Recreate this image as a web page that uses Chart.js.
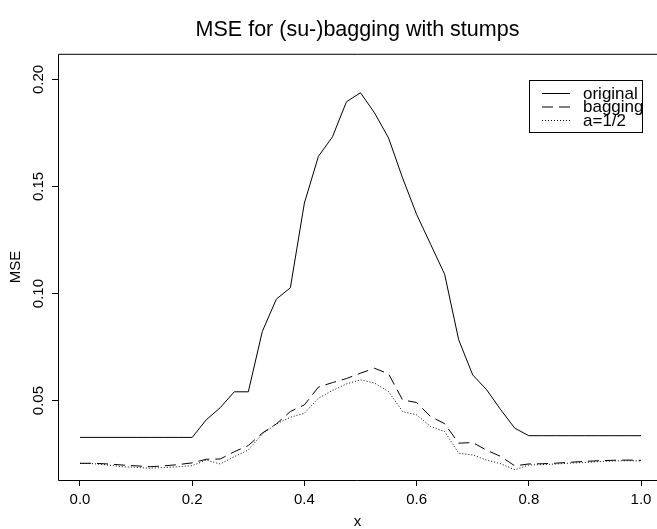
<!DOCTYPE html>
<html lang="en">
<head>
<meta charset="UTF-8">
<title>MSE for (su-)bagging with stumps</title>
<script src="https://cdn.jsdelivr.net/npm/chart.js"></script>
<style>
  html, body { margin: 0; padding: 0; background: #fff; overflow: hidden; }
  #wrap { position: relative; width: 657px; height: 529px; }
</style>
</head>
<body>
<div id="wrap"><canvas id="mseChart"></canvas></div>
<script>
// x grid (41 points) and the three MSE curves
const xValues = [0, 0.025, 0.05, 0.075, 0.1, 0.125, 0.15, 0.175, 0.2, 0.225,
                 0.25, 0.275, 0.3, 0.325, 0.35, 0.375, 0.4, 0.425, 0.45, 0.475,
                 0.5, 0.525, 0.55, 0.575, 0.6, 0.625, 0.65, 0.675, 0.7, 0.725,
                 0.75, 0.775, 0.8, 0.825, 0.85, 0.875, 0.9, 0.925, 0.95, 0.975, 1.0];
const original = [0.0328, 0.0328, 0.0328, 0.0328, 0.0328, 0.0328, 0.0328, 0.0328, 0.0328, 0.0410,
                  0.0467, 0.0541, 0.0541, 0.0823, 0.0974, 0.1027, 0.1423, 0.1641, 0.1732, 0.1896,
                  0.1938, 0.1844, 0.1727, 0.1540, 0.1370, 0.1230, 0.1090, 0.0784, 0.0620, 0.0550,
                  0.0457, 0.0371, 0.0336, 0.0336, 0.0336, 0.0336, 0.0336, 0.0336, 0.0336, 0.0336, 0.0336];
const bagging = [0.0207, 0.0207, 0.0204, 0.0199, 0.0195, 0.0191, 0.0195, 0.0201, 0.0209, 0.0226,
                 0.0227, 0.0261, 0.0290, 0.0348, 0.0391, 0.0449, 0.0480, 0.0563, 0.0584, 0.0603,
                 0.0628, 0.0651, 0.0625, 0.0503, 0.0491, 0.0425, 0.0392, 0.0301, 0.0304, 0.0268,
                 0.0239, 0.0195, 0.0204, 0.0205, 0.0208, 0.0212, 0.0216, 0.0219, 0.0221, 0.0222, 0.0221];
const halfSub = [0.0207, 0.0205, 0.0199, 0.0191, 0.0188, 0.0184, 0.0187, 0.0191, 0.0196, 0.0222,
                 0.0204, 0.0238, 0.0269, 0.0344, 0.0391, 0.0422, 0.0441, 0.0511, 0.0547, 0.0578,
                 0.0597, 0.0582, 0.0542, 0.0449, 0.0433, 0.0379, 0.0355, 0.0254, 0.0246, 0.0222,
                 0.0205, 0.0177, 0.0199, 0.0201, 0.0204, 0.0208, 0.0211, 0.0215, 0.0218, 0.0219, 0.0218];
const seriesNames = ['original', 'bagging', 'a=1/2'];

const xTicks = [0, 0.2, 0.4, 0.6, 0.8, 1.0];
const xTickLabels = ['0.0', '0.2', '0.4', '0.6', '0.8', '1.0'];
const yTicks = [0.05, 0.10, 0.15, 0.20];
const yTickLabels = ['0.05', '0.10', '0.15', '0.20'];

const fontFamily = "'Liberation Sans', Arial, Helvetica, sans-serif";
Chart.defaults.font.family = fontFamily;
Chart.defaults.color = '#000';

function toPoints(ys) {
    return xValues.map((x, i) => ({ x: x, y: ys[i] }));
}

// R style box (its right side falls just outside the picture) plus the boxed legend
const rFrame = {
    id: 'rFrame',
    afterDraw(chart) {
        const { ctx, chartArea } = chart;
        const l = chartArea.left + 0.5, t = chartArea.top + 0.5, b = chartArea.bottom + 0.5;
        ctx.save();
        ctx.strokeStyle = '#000';
        ctx.lineWidth = 1;
        ctx.beginPath();
        ctx.moveTo(chartArea.right, t);
        ctx.lineTo(l, t);
        ctx.lineTo(l, b);
        ctx.lineTo(chartArea.right, b);
        ctx.stroke();

        // legend
        ctx.strokeRect(529.5, 80.5, 113, 52);
        ctx.font = '17px ' + fontFamily;
        ctx.textBaseline = 'middle';
        ctx.fillStyle = '#000';
        chart.data.datasets.forEach((ds, i) => {
            const y = 93.5 + i * 13.5;
            ctx.setLineDash(ds.borderDash || []);
            ctx.beginPath();
            ctx.moveTo(542, y);
            ctx.lineTo(570, y);
            ctx.stroke();
            ctx.setLineDash([]);
            ctx.fillText(ds.label, 583, y + 0.5);
        });
        ctx.restore();
    }
};

const ctx = document.getElementById('mseChart').getContext('2d');
new Chart(ctx, {
    type: 'line',
    data: {
        datasets: [
            { label: seriesNames[0], data: toPoints(original), borderColor: '#000', borderWidth: 1, borderDash: [] },
            { label: seriesNames[1], data: toPoints(bagging), borderColor: '#000', borderWidth: 1, borderDash: [11, 6] },
            { label: seriesNames[2], data: toPoints(halfSub), borderColor: '#000', borderWidth: 1, borderDash: [1, 2] }
        ]
    },
    options: {
        responsive: true,
        maintainAspectRatio: false,
        animation: false,
        elements: { point: { radius: 0 }, line: { tension: 0 } },
        layout: { padding: { left: 0, right: 0, top: 0, bottom: 0 } },
        plugins: {
            legend: { display: false },
            tooltip: { enabled: false },
            title: {
                display: true,
                text: 'MSE for (su-)bagging with stumps',
                fullSize: false,
                font: { size: 21.5, weight: 'normal' },
                color: '#000',
                padding: { top: 17, bottom: 11 }
            }
        },
        scales: {
            x: {
                type: 'linear',
                min: -0.0392,
                max: 1.0285,
                afterBuildTicks: (scale) => { scale.ticks = xTicks.map(v => ({ value: v })); },
                afterFit: (scale) => { scale.height = 49; },
                ticks: {
                    callback: (v, i) => xTickLabels[i],
                    font: { size: 15 },
                    padding: 5,
                    maxRotation: 0,
                    autoSkip: false
                },
                grid: { display: true, drawOnChartArea: false, drawTicks: true, tickLength: 6, color: '#000' },
                border: { display: false },
                title: { display: true, text: 'x', font: { size: 15 }, padding: { top: 0, bottom: -2 } }
            },
            y: {
                type: 'linear',
                min: 0.0129,
                max: 0.212,
                afterBuildTicks: (scale) => { scale.ticks = yTicks.map(v => ({ value: v })); },
                afterFit: (scale) => { scale.width = 58; },
                ticks: {
                    callback: (v, i) => yTickLabels[i],
                    font: { size: 15 },
                    minRotation: 90,
                    maxRotation: 90,
                    crossAlign: 'center',
                    padding: -1,
                    autoSkip: false
                },
                grid: { display: true, drawOnChartArea: false, drawTicks: true, tickLength: 6, color: '#000' },
                border: { display: false },
                title: { display: true, text: 'MSE', font: { size: 15 }, padding: { top: 7, bottom: 0 } }
            }
        }
    },
    plugins: [rFrame]
});
</script>
</body>
</html>
